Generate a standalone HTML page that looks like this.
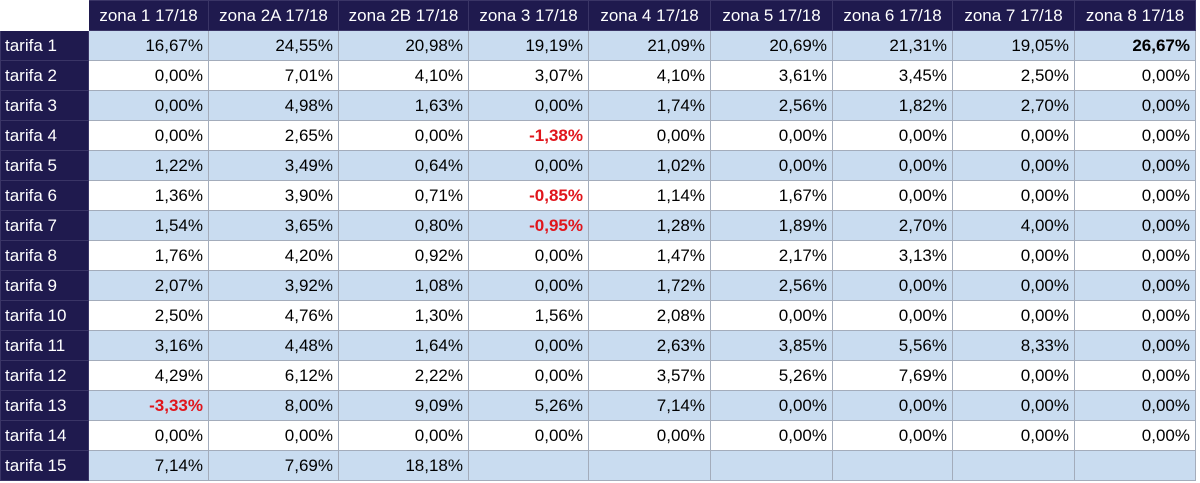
<!DOCTYPE html>
<html><head><meta charset="utf-8"><style>
body{margin:0;background:#fff;width:1200px;height:483px;overflow:hidden}
table{border-collapse:collapse;table-layout:fixed;font-family:"Liberation Sans",sans-serif;font-size:17px;position:absolute;left:0;top:0}
td{height:29px;padding:0 5px 0 0;text-align:right;border:1px solid #a3acbb;color:#000;white-space:nowrap;overflow:hidden}
tr.h td{background:#1f1a4e;color:#fff;text-align:center;padding:0;border-color:#3a3566;height:29px}
tr.h td.blank{background:#fff;border-color:#fff}
td.l{background:#1f1a4e;color:#fff;text-align:left;padding-left:4px;border-color:#3a3566}
tr.b td{background:#c9dcf0}
tr.b td.l{background:#1f1a4e}
tr.w td{background:#fff}
tr.w td.l{background:#1f1a4e}
.r{color:#e0151b;font-weight:bold}
.k{font-weight:bold}
</style></head><body>
<table>
<colgroup><col style="width:88px"><col style="width:120px"><col style="width:130px"><col style="width:130px"><col style="width:120px"><col style="width:122px"><col style="width:122px"><col style="width:120px"><col style="width:122px"><col style="width:121px"></colgroup>
<tr class="h"><td class="blank"></td><td>zona 1 17/18</td><td>zona 2A 17/18</td><td>zona 2B 17/18</td><td>zona 3 17/18</td><td>zona 4 17/18</td><td>zona 5 17/18</td><td>zona 6 17/18</td><td>zona 7 17/18</td><td>zona 8 17/18</td></tr>
<tr class="b"><td class="l">tarifa 1</td><td>16,67%</td><td>24,55%</td><td>20,98%</td><td>19,19%</td><td>21,09%</td><td>20,69%</td><td>21,31%</td><td>19,05%</td><td class="k">26,67%</td></tr>
<tr class="w"><td class="l">tarifa 2</td><td>0,00%</td><td>7,01%</td><td>4,10%</td><td>3,07%</td><td>4,10%</td><td>3,61%</td><td>3,45%</td><td>2,50%</td><td>0,00%</td></tr>
<tr class="b"><td class="l">tarifa 3</td><td>0,00%</td><td>4,98%</td><td>1,63%</td><td>0,00%</td><td>1,74%</td><td>2,56%</td><td>1,82%</td><td>2,70%</td><td>0,00%</td></tr>
<tr class="w"><td class="l">tarifa 4</td><td>0,00%</td><td>2,65%</td><td>0,00%</td><td class="r">-1,38%</td><td>0,00%</td><td>0,00%</td><td>0,00%</td><td>0,00%</td><td>0,00%</td></tr>
<tr class="b"><td class="l">tarifa 5</td><td>1,22%</td><td>3,49%</td><td>0,64%</td><td>0,00%</td><td>1,02%</td><td>0,00%</td><td>0,00%</td><td>0,00%</td><td>0,00%</td></tr>
<tr class="w"><td class="l">tarifa 6</td><td>1,36%</td><td>3,90%</td><td>0,71%</td><td class="r">-0,85%</td><td>1,14%</td><td>1,67%</td><td>0,00%</td><td>0,00%</td><td>0,00%</td></tr>
<tr class="b"><td class="l">tarifa 7</td><td>1,54%</td><td>3,65%</td><td>0,80%</td><td class="r">-0,95%</td><td>1,28%</td><td>1,89%</td><td>2,70%</td><td>4,00%</td><td>0,00%</td></tr>
<tr class="w"><td class="l">tarifa 8</td><td>1,76%</td><td>4,20%</td><td>0,92%</td><td>0,00%</td><td>1,47%</td><td>2,17%</td><td>3,13%</td><td>0,00%</td><td>0,00%</td></tr>
<tr class="b"><td class="l">tarifa 9</td><td>2,07%</td><td>3,92%</td><td>1,08%</td><td>0,00%</td><td>1,72%</td><td>2,56%</td><td>0,00%</td><td>0,00%</td><td>0,00%</td></tr>
<tr class="w"><td class="l">tarifa 10</td><td>2,50%</td><td>4,76%</td><td>1,30%</td><td>1,56%</td><td>2,08%</td><td>0,00%</td><td>0,00%</td><td>0,00%</td><td>0,00%</td></tr>
<tr class="b"><td class="l">tarifa 11</td><td>3,16%</td><td>4,48%</td><td>1,64%</td><td>0,00%</td><td>2,63%</td><td>3,85%</td><td>5,56%</td><td>8,33%</td><td>0,00%</td></tr>
<tr class="w"><td class="l">tarifa 12</td><td>4,29%</td><td>6,12%</td><td>2,22%</td><td>0,00%</td><td>3,57%</td><td>5,26%</td><td>7,69%</td><td>0,00%</td><td>0,00%</td></tr>
<tr class="b"><td class="l">tarifa 13</td><td class="r">-3,33%</td><td>8,00%</td><td>9,09%</td><td>5,26%</td><td>7,14%</td><td>0,00%</td><td>0,00%</td><td>0,00%</td><td>0,00%</td></tr>
<tr class="w"><td class="l">tarifa 14</td><td>0,00%</td><td>0,00%</td><td>0,00%</td><td>0,00%</td><td>0,00%</td><td>0,00%</td><td>0,00%</td><td>0,00%</td><td>0,00%</td></tr>
<tr class="b"><td class="l">tarifa 15</td><td>7,14%</td><td>7,69%</td><td>18,18%</td><td></td><td></td><td></td><td></td><td></td><td></td></tr>
</table>
</body></html>
